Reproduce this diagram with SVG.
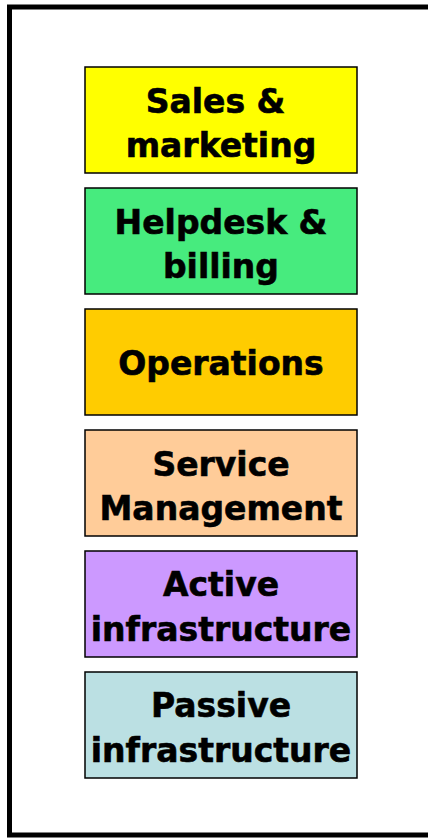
<svg xmlns="http://www.w3.org/2000/svg" width="428" height="838" viewBox="0 0 428 838">
<style>
.frame{fill:#fff;stroke:#000;stroke-width:5}
.box{stroke:#000;stroke-width:1.5}
.lbl{font-family:"DejaVu Sans",Verdana,sans-serif;font-weight:bold;font-size:33px;fill:#000;stroke:#000;stroke-width:0.6;text-anchor:middle}
</style>
<rect class="frame" x="9.5" y="7" width="430" height="828"/>
<g id="connectors"/>
<g id="sales">
<rect class="box" x="85" y="67" width="272" height="106" fill="#FFFF00"/>
<text class="lbl" x="215.5" y="113">Sales &amp;</text>
<text class="lbl" x="221" y="157">marketing</text>
</g>
<g id="helpdesk">
<rect class="box" x="85" y="188" width="272" height="106" fill="#47EB7E"/>
<text class="lbl" x="221" y="234">Helpdesk &amp;</text>
<text class="lbl" x="221" y="278">billing</text>
</g>
<g id="operations">
<rect class="box" x="85" y="309" width="272" height="106" fill="#FFCC00"/>
<text class="lbl" x="221" y="374.5">Operations</text>
</g>
<g id="service">
<rect class="box" x="85" y="430" width="272" height="106" fill="#FFCC99"/>
<text class="lbl" x="221" y="476">Service</text>
<text class="lbl" x="221" y="520">Management</text>
</g>
<g id="active">
<rect class="box" x="85" y="551" width="272" height="106" fill="#CC99FF"/>
<text class="lbl" x="221" y="596">Active</text>
<text class="lbl" x="221" y="641">infrastructure</text>
</g>
<g id="passive">
<rect class="box" x="85" y="672" width="272" height="106" fill="#BBE0E3"/>
<text class="lbl" x="221" y="717">Passive</text>
<text class="lbl" x="221" y="762">infrastructure</text>
</g>
</svg>
